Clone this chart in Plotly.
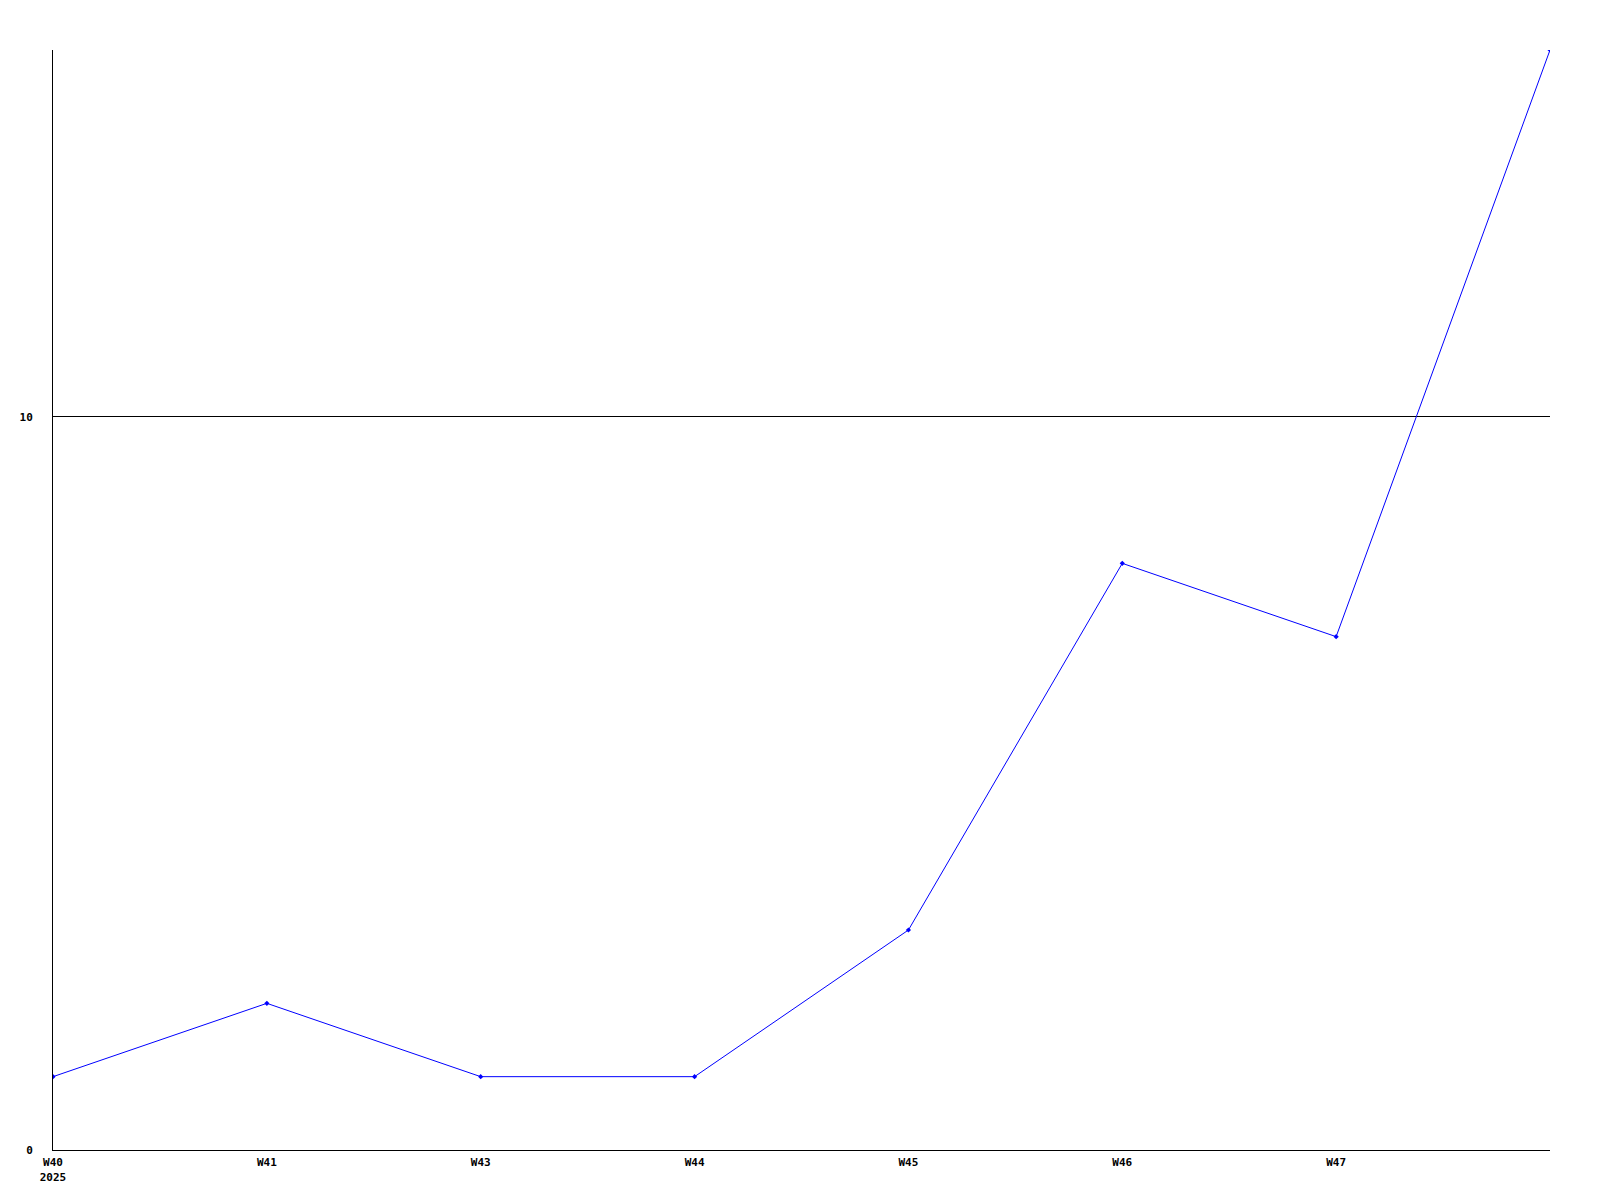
import plotly.graph_objects as go

# weekly points, the last one has no label
weeks = ["W40<br>2025", "W41", "W43", "W44", "W45", "W46", "W47"]
week_idx = [0, 1, 2, 3, 4, 5, 6, 7]
counts = [1, 2, 1, 1, 3, 8, 7, 15]

FONT = dict(family="DejaVu Sans Mono", size=11, color="black", weight="bold")

fig = go.Figure()
fig.add_trace(go.Scatter(
    x=week_idx, y=counts, mode="lines+markers",
    line=dict(color="#0000ff", width=1),
    marker=dict(color="#0000ff", size=4, symbol="diamond"),
    cliponaxis=True,
))

# page has an 8px body margin, so the plot box sits at 42..1542 x 42..1142
fig.update_layout(
    width=1600, height=1200,
    margin=dict(l=42, r=58, t=42, b=58),
    paper_bgcolor="white", plot_bgcolor="white",
    showlegend=False, font=FONT,
)
fig.update_xaxes(
    range=[0, 7], tickvals=week_idx[:len(weeks)], ticktext=weeks,
    showgrid=False, zeroline=False, showline=True, linecolor="black", linewidth=1,
    ticks="", ticklabelstandoff=2, tickfont=FONT,
)
fig.update_yaxes(
    range=[0, 15], tickvals=[0, 10], ticktext=["0", "10"],
    showgrid=True, gridcolor="black", gridwidth=1, zeroline=False,
    showline=True, linecolor="black", linewidth=1,
    ticks="", ticklabelstandoff=17, tickfont=FONT,
)

fig.write_html("out.html")
